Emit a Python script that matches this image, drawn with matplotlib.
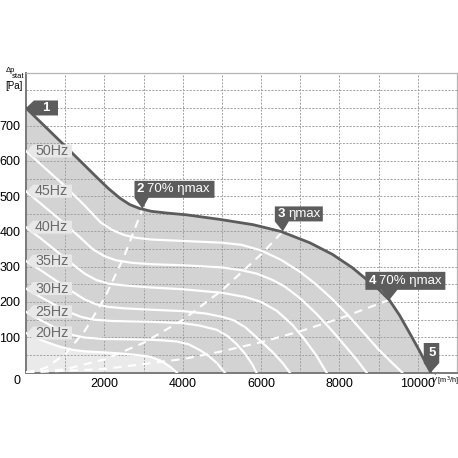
import matplotlib
matplotlib.use("Agg")
from matplotlib import pyplot as plt
from matplotlib import transforms as mtransforms
from matplotlib.patches import Polygon

plt.rcParams['font.family'] = ['Liberation Sans', 'DejaVu Sans']

# outer limit curve  (flow m3/h, pressure Pa)
max_q = [0, 870, 1810, 2100, 2400, 2650, 2900, 3200, 3600, 4100, 4950, 5800, 6500,
         7240, 7820, 8330, 8700, 9000, 9270, 9530, 9780, 10040, 10330]
max_p = [750, 656, 553, 522, 494, 476, 465, 457, 452, 447, 434, 419, 400,
         368, 335, 297, 263, 236, 206, 163, 114, 62, 0]

# speed curves
q50 = [0, 500, 1000, 1500, 1900, 2200, 2500, 2800, 3200, 4000, 5000, 5500, 6000,
       6500, 7000, 7400, 7800, 8200, 8600, 9000, 9300, 9600]
p50 = [628, 578, 528, 473, 426, 404, 390, 382, 377, 373, 368, 362, 346,
       320, 285, 250, 210, 165, 115, 65, 32, 0]
q45 = [0, 450, 900, 1350, 1700, 2000, 2300, 2700, 3200, 4000, 5000, 5500, 5900,
       6300, 6600, 7000, 7400, 7800, 8200, 8450, 8690]
p45 = [514, 472, 430, 386, 350, 330, 318, 311, 307, 304, 298, 290, 280,
       262, 244, 210, 168, 120, 68, 35, 0]
q40 = [0, 400, 800, 1200, 1500, 1800, 2100, 2500, 3200, 4000, 5000, 5600, 6000,
       6400, 6800, 7100, 7400, 7670]
p40 = [412, 378, 342, 306, 280, 262, 252, 247, 241, 236, 226, 214, 200,
       175, 135, 95, 50, 0]
q35 = [0, 400, 800, 1200, 1500, 1800, 2100, 2500, 3200, 4000, 4600, 5000, 5300,
       5600, 5960, 6300, 6550, 6730]
p35 = [316, 288, 258, 228, 207, 193, 186, 182, 178, 174, 167, 158, 148,
       128, 92, 57, 27, 0]
q30 = [0, 400, 800, 1100, 1400, 1700, 2200, 3160, 4000, 4430, 4870, 5150, 5380,
       5600, 5780, 5880]
p30 = [238, 212, 188, 171, 158, 150, 146, 144, 140, 133, 121, 103, 80,
       52, 22, 0]
q25 = [0, 300, 600, 900, 1200, 1500, 2000, 2700, 3160, 3500, 3850, 4150, 4430,
       4650, 4870, 5070]
p25 = [172, 153, 135, 119, 106, 99, 95, 94, 93, 91, 88, 80, 64,
       48, 27, 0]
q20 = [0, 300, 600, 900, 1200, 1500, 2000, 2500, 2800, 3160, 3450, 3670, 3850]
p20 = [112, 96, 83, 72, 64, 60, 57, 53, 50, 45, 33, 17, 0]

speed_labels = ["50Hz", "45Hz", "40Hz", "35Hz", "30Hz", "25Hz", "20Hz"]

# system curves to the marked points
sys2_q = [0, 500, 1000, 1500, 2000, 2500, 2973]
sys2_p = [0, 13, 52, 118, 210, 328, 464]
sys3_q = [0, 1000, 2000, 3000, 4000, 5000, 6000, 6555]
sys3_p = [0, 9, 37, 84, 149, 233, 335, 400]
sys4_q = [0, 2000, 4000, 5000, 6000, 7000, 8000, 9274]
sys4_p = [0, 10, 38, 60, 86, 117, 153, 206]

xticks = [2000, 4000, 6000, 8000, 10000]
yticks = [100, 200, 300, 400, 500, 600, 700]

DARK = "#5c5c5c"


def shape(ax, fig, x, y, verts, color):
    # verts in pixel offsets from the data point (y up)
    trans = fig.dpi_scale_trans + mtransforms.ScaledTranslation(x, y, ax.transData)
    pts = [(a / fig.dpi, b / fig.dpi) for a, b in verts]
    ax.add_patch(Polygon(pts, closed=True, transform=trans, fc=color,
                         ec="none", zorder=6, clip_on=False))


def note(ax, x, y, dx, dy, s, **kw):
    ax.annotate(s, xy=(x, y), xytext=(dx, dy), textcoords="offset pixels",
                va="center", zorder=7, annotation_clip=False, **kw)


def main():
    fig = plt.figure(figsize=(4.58, 4.58), dpi=100)
    ax = fig.add_axes([26 / 458, 85.5 / 458, 431 / 458, 299.8 / 458])

    ax.fill_between(max_q, max_p, 0, color="#d3d3d3", lw=0, zorder=1)
    ax.fill_between(q20, p20, 0, color="#eaeaea", lw=0, zorder=1)

    curves = [(q50, p50), (q45, p45), (q40, p40), (q35, p35), (q30, p30), (q25, p25), (q20, p20)]
    for q, p in curves:
        ax.plot(q, p, color="white", lw=1.6, zorder=3, solid_joinstyle="round")

    for q, p in [(sys2_q, sys2_p), (sys3_q, sys3_p), (sys4_q, sys4_p)]:
        ax.plot(q, p, color="white", lw=1.5, dashes=(4, 3), zorder=3)

    ax.plot(max_q, max_p, color=DARK, lw=2.0, zorder=4, solid_joinstyle="round")

    # speed labels
    for (q, p), lab in zip(curves, speed_labels):
        shape(ax, fig, 0, p[0], [(1, 0), (7, 6.5), (46, 6.5), (46, -6.5), (7, -6.5)], "#e8e8e8")
        note(ax, 0, p[0], 9, 0, lab, color="#6a6a6a", fontsize=10.3, ha="left")

    # operating point markers
    shape(ax, fig, 0, 750, [(0, 0), (8, 7.5), (32, 7.5), (32, -7.5), (8, -7.5)], DARK)
    note(ax, 0, 750, 20, 0, "1", color="white", fontsize=9.5, fontweight="bold", ha="center")

    shape(ax, fig, sys2_q[-1], sys2_p[-1],
          [(-8, 28), (72, 28), (72, 11), (6, 11), (0, 0), (-8, 11)], DARK)
    note(ax, sys2_q[-1], sys2_p[-1], -6, 19.5, "2", color="white", fontsize=9.5, fontweight="bold", ha="left")
    note(ax, sys2_q[-1], sys2_p[-1], 5, 19.5, "70% ηmax", color="white", fontsize=9.5, ha="left")

    shape(ax, fig, sys3_q[-1], sys3_p[-1],
          [(-8, 25), (40, 25), (40, 10), (6, 10), (0, 0), (-8, 10)], DARK)
    note(ax, sys3_q[-1], sys3_p[-1], -5, 17.5, "3", color="white", fontsize=9.5, fontweight="bold", ha="left")
    note(ax, sys3_q[-1], sys3_p[-1], 6, 17.5, "ηmax", color="white", fontsize=9.5, ha="left")

    shape(ax, fig, sys4_q[-1], sys4_p[-1],
          [(-24, 28), (56, 28), (56, 10), (8, 10), (0, 0), (-8, 10), (-24, 10)], DARK)
    note(ax, sys4_q[-1], sys4_p[-1], -21, 19, "4", color="white", fontsize=9.5, fontweight="bold", ha="left")
    note(ax, sys4_q[-1], sys4_p[-1], -10, 19, "70% ηmax", color="white", fontsize=9.5, ha="left")

    shape(ax, fig, max_q[-1], 0, [(-7, 29.5), (8.5, 29.5), (8.5, 9.5), (0, 0), (-7, 9.5)], DARK)
    note(ax, max_q[-1], 0, 1, 19, "5", color="white", fontsize=9.5, fontweight="bold", ha="center")

    # axes
    ax.set_xlim(0, 11000)
    ax.set_ylim(0, 850)
    ax.set_xticks(xticks)
    ax.set_xticks(range(1000, 11000, 1000), minor=True)
    ax.set_yticks(yticks)
    ax.set_yticks(range(50, 850, 50), minor=True)
    ax.tick_params(which="both", length=0, labelsize=9)
    ax.tick_params(axis="x", pad=4)
    ax.tick_params(axis="y", pad=4)
    ax.set_axisbelow("line")
    ax.grid(which="both", color="#a0a0a0", lw=0.7, ls=(0, (2, 1.5)))

    for side in ["left", "bottom"]:
        ax.spines[side].set_color("#7a7a7a")
        ax.spines[side].set_linewidth(1.4)
    for side in ["top", "right"]:
        ax.spines[side].set_color("#b5b5b5")
        ax.spines[side].set_linewidth(0.9)

    note(ax, 0, 0, -9, -8, "0", color="black", fontsize=9, ha="center")
    fig.text(6 / 458, 1 - 71 / 458, "Δp", fontsize=5.5, va="center", ha="left")
    fig.text(12 / 458, 1 - 77 / 458, "stat", fontsize=5.5, va="center", ha="left")
    fig.text(5 / 458, 1 - 86 / 458, "[Pa]", fontsize=7, va="center", ha="left")
    fig.text(431 / 458, 1 - 380 / 458, r"$\dot{V}$ [m$^3$/h]", fontsize=5.2, va="center", ha="left")

    fig.savefig("out.png", dpi=100)


if __name__ == '__main__':
    main()
